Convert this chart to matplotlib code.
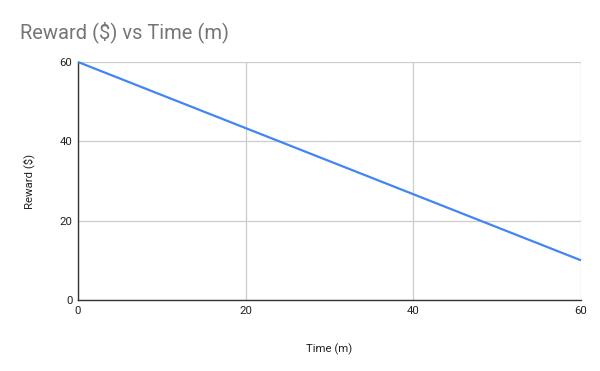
import matplotlib
matplotlib.use("Agg")
from matplotlib import pyplot as plt

# data
time_m = [0, 60]
reward = [60, 10]
x_ticks = [0, 20, 40, 60]
y_ticks = [0, 20, 40, 60]

plt.rcParams['font.family'] = ['Roboto', 'DejaVu Sans']

fig = plt.figure(figsize=(6, 3.71), dpi=100)
ax = fig.add_axes([78 / 600, 1 - 300 / 371, (581 - 78) / 600, (300 - 62) / 371])

ax.plot(time_m, reward, color="#4285F4", lw=1.6, solid_capstyle="butt", clip_on=False, zorder=3)

ax.set_xlim(0, 60)
ax.set_ylim(0, 60)
ax.set_xticks(x_ticks)
ax.set_yticks(y_ticks)
ax.grid(True, color="#cccccc", lw=0.9)
ax.set_axisbelow(True)
ax.tick_params(length=0, labelsize=8.2, colors="#222222", pad=4)

for s in ["top", "right"]:
    ax.spines[s].set_visible(False)
for s in ["left", "bottom"]:
    ax.spines[s].set_color("#333333")
    ax.spines[s].set_linewidth(1.0)

ax.set_xlabel("Time (m)", fontsize=8.2, color="#222222", labelpad=20)
ax.set_ylabel("Reward ($)", fontsize=8.2, color="#222222", labelpad=18)

fig.text(20 / 600, 1 - 38 / 371, "Reward ($) vs Time (m)", fontsize=14.5, color="#757575",
         ha="left", va="baseline")

fig.savefig("out.png", dpi=100)
